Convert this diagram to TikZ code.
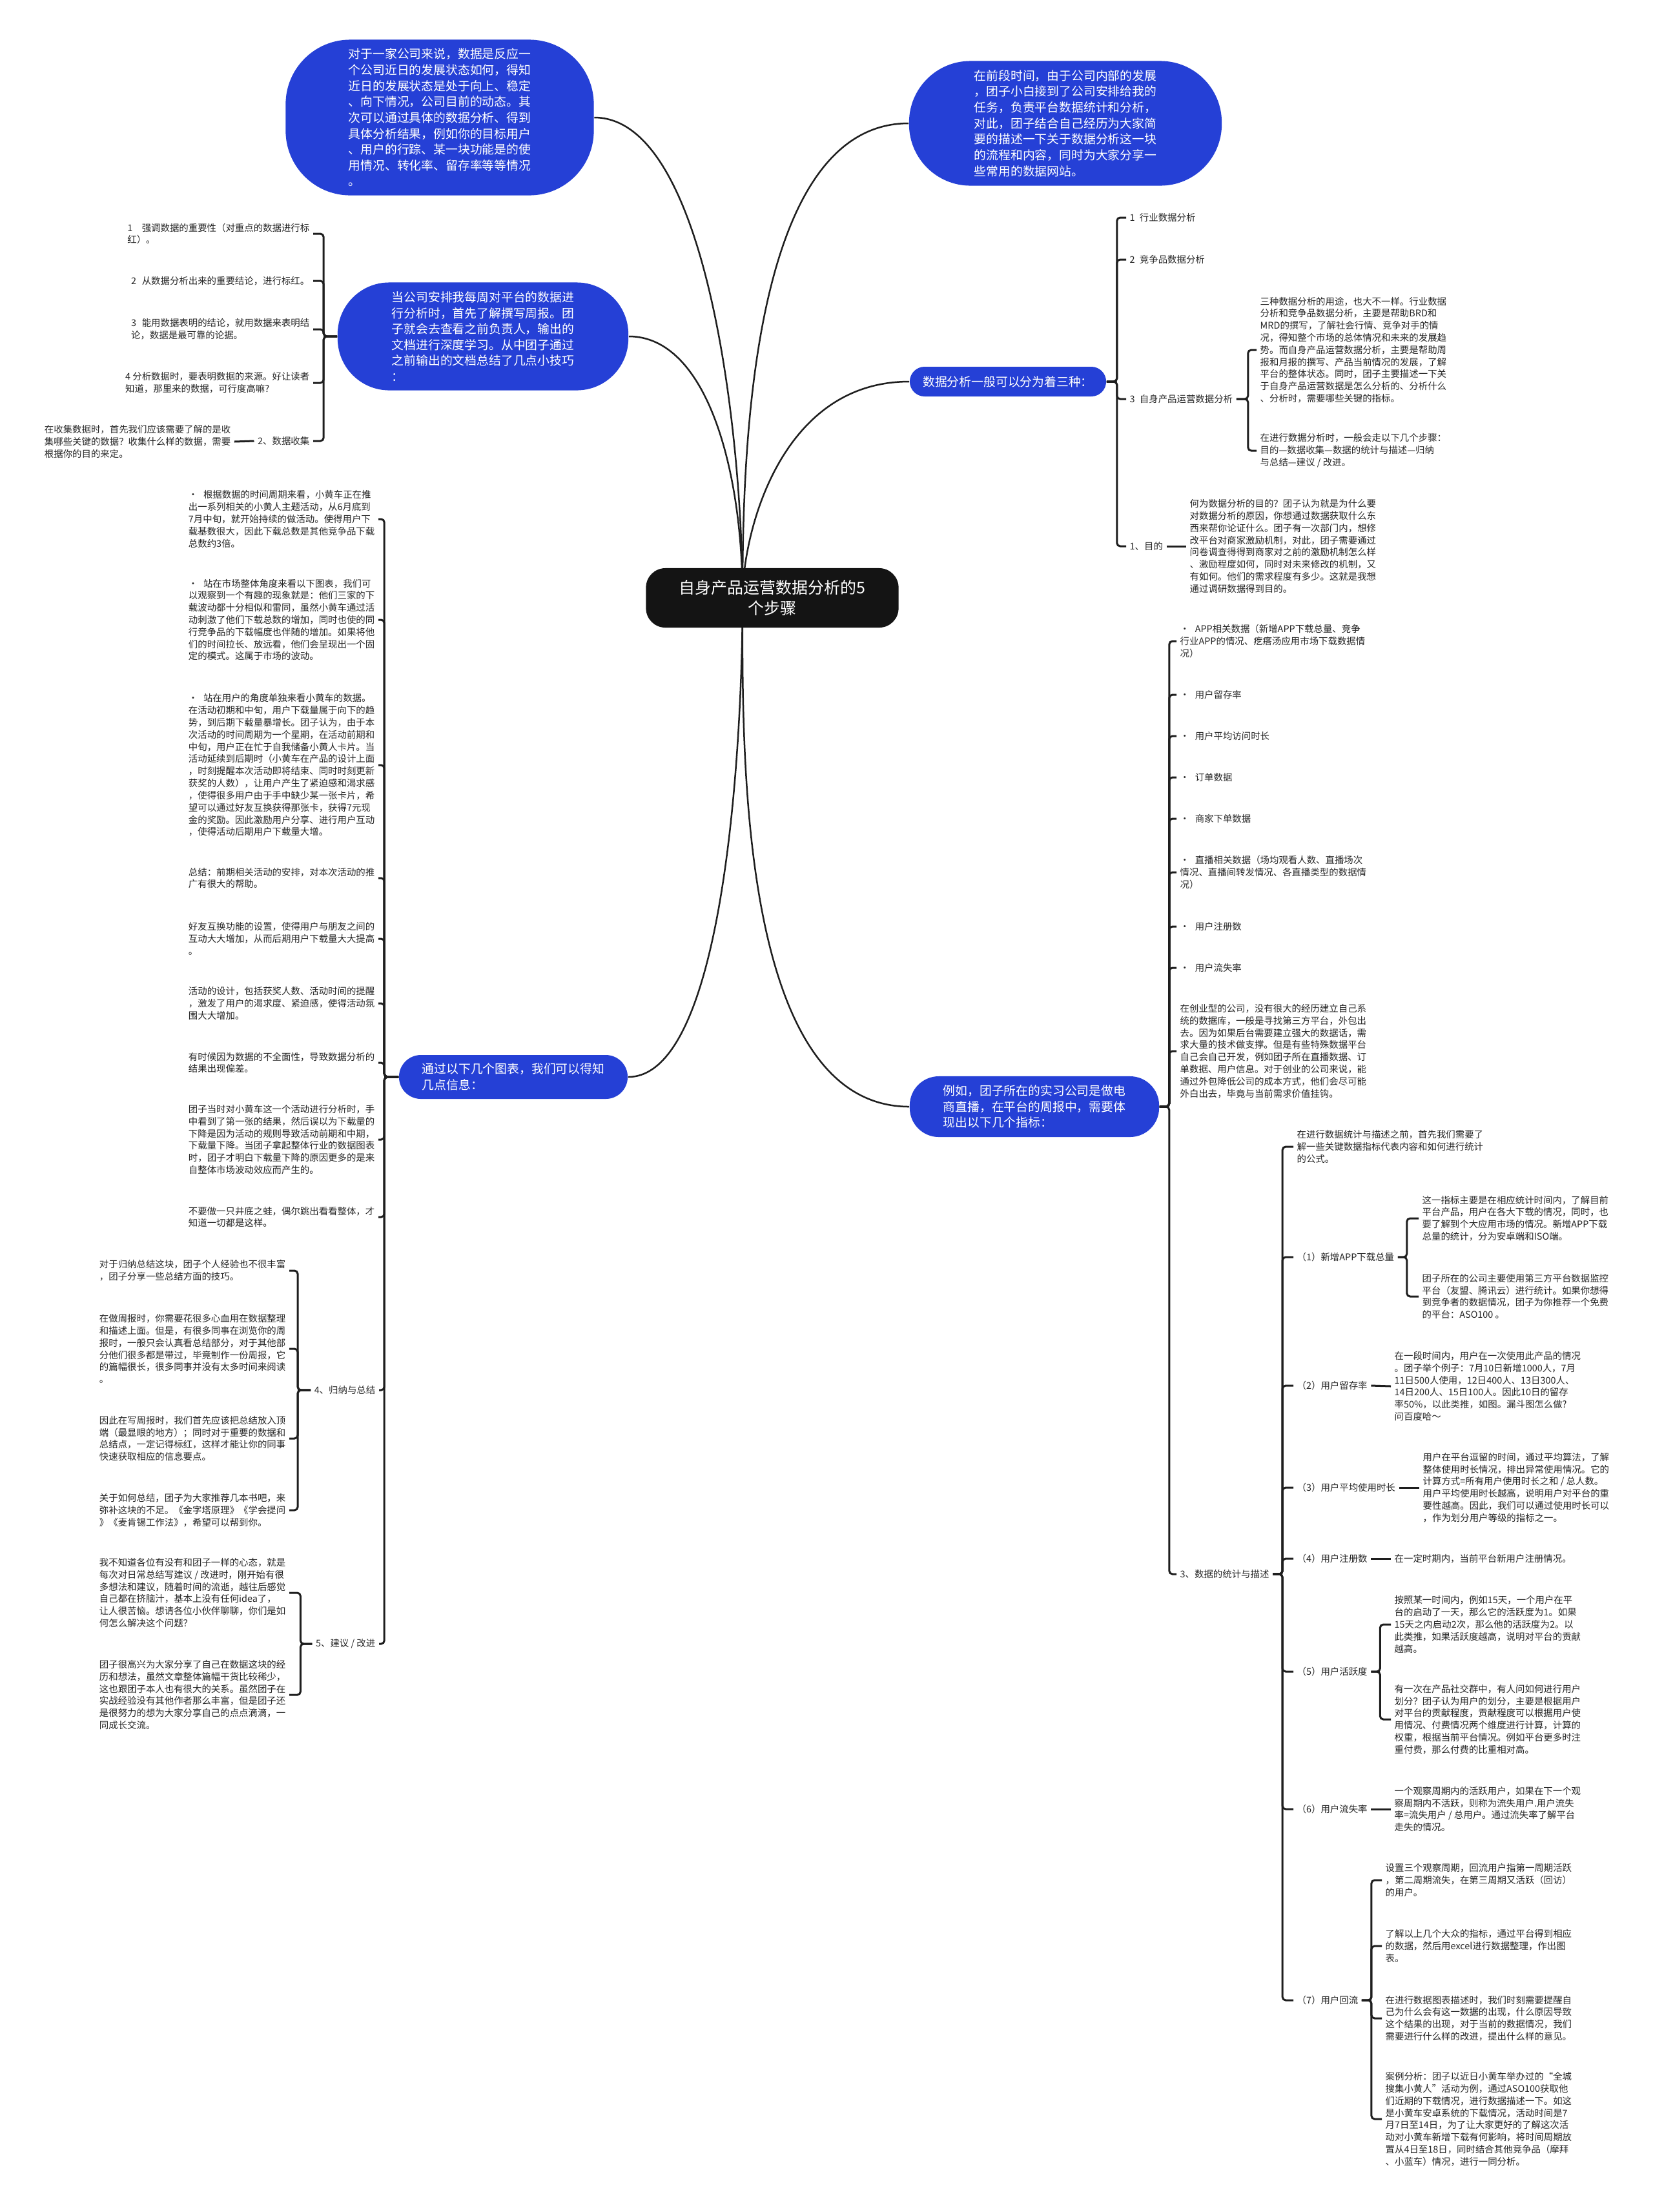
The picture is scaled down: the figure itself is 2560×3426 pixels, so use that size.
\documentclass[tikz,border=0pt]{standalone}
\usepackage{fontspec}
\setmainfont{Noto Sans CJK SC}
\usepackage{xcolor}
\definecolor{topicblue}{HTML}{2540D6}
\definecolor{rootblack}{HTML}{141414}
\definecolor{inkgray}{HTML}{262626}
\definecolor{linegray}{HTML}{1E1E1E}
\usetikzlibrary{backgrounds}

\begin{document}
\begin{tikzpicture}[x=0.01cm, y=-0.01cm, every node/.style={font=\fontsize{4.1}{5.35}\selectfont}]
\tikzstyle{leaf}=[align=left, inner sep=0.05cm, text=inkgray]
\tikzstyle{topic}=[fill=topicblue, text=white, align=left, inner sep=0pt,
  font=\fontsize{5.35}{7}\selectfont]
\tikzstyle{rootbox}=[fill=rootblack, text=white, align=center, rounded corners=0.3cm,
  minimum width=3.91cm, minimum height=0.92cm, font=\fontsize{7.1}{9.3}\selectfont]
\tikzstyle{link}=[draw=linegray, line width=0.025cm]
\tikzstyle{brace}=[draw=linegray, line width=0.03cm, rounded corners=0.05cm]
\useasboundingbox (0,0) rectangle (2560,3426);

\node[rootbox] (root) at (1196,926) {自身产品运营数据分析的5\\个步骤};

\node[topic, minimum width=4.77cm, minimum height=2.41cm, rounded corners=1cm] (a) at (681,182)
  {对于一家公司来说，数据是反应一\\个公司近日的发展状态如何，得知\\近日的发展状态是处于向上、稳定\\、向下情况，公司目前的动态。其\\次可以通过具体的数据分析、得到\\具体分析结果，例如你的目标用户\\、用户的行踪、某一块功能是的使\\用情况、转化率、留存率等等情况\\。};
\node[topic, minimum width=4.84cm, minimum height=1.93cm, rounded corners=0.95cm] (d) at (1650,191)
  {在前段时间，由于公司内部的发展\\，团子小白接到了公司安排给我的\\任务，负责平台数据统计和分析，\\对此，团子结合自己经历为大家简\\要的描述一下关于数据分析这一块\\的流程和内容，同时为大家分享一\\些常用的数据网站。};
\node[topic, minimum width=4.5cm, minimum height=1.67cm, rounded corners=0.8cm] (b) at (748,521)
  {当公司安排我每周对平台的数据进\\行分析时，首先了解撰写周报。团\\子就会去查看之前负责人，输出的\\文档进行深度学习。从中团子通过\\之前输出的文档总结了几点小技巧\\：};
\node[topic, minimum width=3.04cm, minimum height=0.46cm, rounded corners=0.23cm] (e) at (1561,591)
  {数据分析一般可以分为着三种：};
\node[topic, minimum width=3.54cm, minimum height=0.68cm, rounded corners=0.34cm] (c) at (795,1668)
  {通过以下几个图表，我们可以得知\\几点信息：};
\node[topic, minimum width=3.86cm, minimum height=0.94cm, rounded corners=0.45cm] (f) at (1602,1714)
  {例如，团子所在的实习公司是做电\\商直播，在平台的周报中，需要体\\现出以下几个指标：};

\node[leaf, anchor=east] (b1) at (485,362) {1\hspace{1em}强调数据的重要性（对重点的数据进行标\\红）。};
\node[leaf, anchor=east] (b2) at (485,435) {2\hspace{0.6em}从数据分析出来的重要结论，进行标红。};
\node[leaf, anchor=east] (b3) at (485,510) {3\hspace{0.6em}能用数据表明的结论，就用数据来表明结\\论，数据是最可靠的论据。};
\node[leaf, anchor=east] (b4) at (485,593) {4 分析数据时，要表明数据的来源。好让读者\\知道，那里来的数据，可行度高嘛?};
\node[leaf, anchor=east] (b5) at (485,683) {2、数据收集};
\node[leaf, anchor=east] (b5a) at (363,684) {在收集数据时，首先我们应该需要了解的是收\\集哪些关键的数据？收集什么样的数据，需要\\根据你的目的来定。};

\node[leaf, anchor=east] (c1) at (586,804) {•\hspace{0.6em}根据数据的时间周期来看，小黄车正在推\\出一系列相关的小黄人主题活动，从6月底到\\7月中旬，就开始持续的做活动。使得用户下\\载基数很大，因此下载总数是其他竞争品下载\\总数约3倍。};
\node[leaf, anchor=east] (c2) at (586,960) {•\hspace{0.6em}站在市场整体角度来看以下图表，我们可\\以观察到一个有趣的现象就是：他们三家的下\\载波动都十分相似和雷同，虽然小黄车通过活\\动刺激了他们下载总数的增加，同时也使的同\\行竞争品的下载幅度也伴随的增加。如果将他\\们的时间拉长、放远看，他们会呈现出一个固\\定的模式。这属于市场的波动。};
\node[leaf, anchor=east] (c3) at (586,1185) {•\hspace{0.6em}站在用户的角度单独来看小黄车的数据。\\在活动初期和中旬，用户下载量属于向下的趋\\势，到后期下载量暴增长。团子认为，由于本\\次活动的时间周期为一个星期，在活动前期和\\中旬，用户正在忙于自我储备小黄人卡片。当\\活动延续到后期时（小黄车在产品的设计上面\\，时刻提醒本次活动即将结束、同时时刻更新\\获奖的人数），让用户产生了紧迫感和渴求感\\，使得很多用户由于手中缺少某一张卡片，希\\望可以通过好友互换获得那张卡，获得7元现\\金的奖励。因此激励用户分享、进行用户互动\\，使得活动后期用户下载量大增。};
\node[leaf, anchor=east] (c4) at (586,1360) {总结：前期相关活动的安排，对本次活动的推\\广有很大的帮助。};
\node[leaf, anchor=east] (c5) at (586,1454) {好友互换功能的设置，使得用户与朋友之间的\\互动大大增加，从而后期用户下载量大大提高\\。};
\node[leaf, anchor=east] (c6) at (586,1554) {活动的设计，包括获奖人数、活动时间的提醒\\，激发了用户的渴求度、紧迫感，使得活动氛\\围大大增加。};
\node[leaf, anchor=east] (c7) at (586,1646) {有时候因为数据的不全面性，导致数据分析的\\结果出现偏差。};
\node[leaf, anchor=east] (c8) at (586,1765) {团子当时对小黄车这一个活动进行分析时，手\\中看到了第一张的结果，然后误以为下载量的\\下降是因为活动的规则导致活动前期和中期，\\下载量下降。当团子拿起整体行业的数据图表\\时，团子才明白下载量下降的原因更多的是来\\自整体市场波动效应而产生的。};
\node[leaf, anchor=east] (c9) at (586,1885) {不要做一只井底之蛙，偶尔跳出看看整体，才\\知道一切都是这样。};
\node[leaf, anchor=east] (h4) at (587,2153) {4、归纳与总结};
\node[leaf, anchor=east] (h5) at (587,2546) {5、建议 / 改进};

\node[leaf, anchor=east] (h4a) at (448,1968) {对于归纳总结这块，团子个人经验也不很丰富\\，团子分享一些总结方面的技巧。};
\node[leaf, anchor=east] (h4b) at (448,2089) {在做周报时，你需要花很多心血用在数据整理\\和描述上面。但是，有很多同事在浏览你的周\\报时，一般只会认真看总结部分，对于其他部\\分他们很多都是带过，毕竟制作一份周报，它\\的篇幅很长，很多同事并没有太多时间来阅读\\。};
\node[leaf, anchor=east] (h4c) at (448,2228) {因此在写周报时，我们首先应该把总结放入顶\\端（最显眼的地方）；同时对于重要的数据和\\总结点，一定记得标红，这样才能让你的同事\\快速获取相应的信息要点。};
\node[leaf, anchor=east] (h4d) at (448,2339) {关于如何总结，团子为大家推荐几本书吧，来\\弥补这块的不足。《金字塔原理》《学会提问\\》《麦肯锡工作法》，希望可以帮到你。};
\node[leaf, anchor=east] (h5a) at (448,2467) {我不知道各位有没有和团子一样的心态，就是\\每次对日常总结写建议 / 改进时，刚开始有很\\多想法和建议，随着时间的流逝，越往后感觉\\自己都在挤脑汁，基本上没有任何idea了，\\让人很苦恼。想请各位小伙伴聊聊，你们是如\\何怎么解决这个问题？};
\node[leaf, anchor=east] (h5b) at (448,2625) {团子很高兴为大家分享了自己在数据这块的经\\历和想法，虽然文章整体篇幅干货比较稀少，\\这也跟团子本人也有很大的关系。虽然团子在\\实战经验没有其他作者那么丰富，但是团子还\\是很努力的想为大家分享自己的点点滴滴，一\\同成长交流。};

\node[leaf, anchor=west] (e1) at (1744,337) {1\hspace{0.5em}行业数据分析};
\node[leaf, anchor=west] (e2) at (1744,402) {2\hspace{0.5em}竞争品数据分析};
\node[leaf, anchor=west] (e3) at (1744,618) {3\hspace{0.5em}自身产品运营数据分析};
\node[leaf, anchor=west] (e4) at (1744,846) {1、目的};
\node[leaf, anchor=west] (e3a) at (1946,542) {三种数据分析的用途，也大不一样。行业数据\\分析和竞争品数据分析，主要是帮助BRD和\\MRD的撰写，了解社会行情、竞争对手的情\\况，得知整个市场的总体情况和未来的发展趋\\势。而自身产品运营数据分析，主要是帮助周\\报和月报的撰写、产品当前情况的发展，了解\\平台的整体状态。同时，团子主要描述一下关\\于自身产品运营数据是怎么分析的、分析什么\\、分析时，需要哪些关键的指标。};
\node[leaf, anchor=west] (e3b) at (1946,698) {在进行数据分析时，一般会走以下几个步骤：\\目的—数据收集—数据的统计与描述—归纳\\与总结—建议 / 改进。};
\node[leaf, anchor=west] (e4a) at (1837,846) {何为数据分析的目的？团子认为就是为什么要\\对数据分析的原因，你想通过数据获取什么东\\西来帮你论证什么。团子有一次部门内，想修\\改平台对商家激励机制，对此，团子需要通过\\问卷调查得得到商家对之前的激励机制怎么样\\、激励程度如何，同时对未来修改的机制，又\\有如何。他们的需求程度有多少。这就是我想\\通过调研数据得到目的。};

\node[leaf, anchor=west] (f1) at (1822,993) {•\hspace{0.6em}APP相关数据（新增APP下载总量、竞争\\行业APP的情况、疙瘩汤应用市场下载数据情\\况）};
\node[leaf, anchor=west] (f2) at (1822,1076) {•\hspace{0.6em}用户留存率};
\node[leaf, anchor=west] (f3) at (1822,1140) {•\hspace{0.6em}用户平均访问时长};
\node[leaf, anchor=west] (f4) at (1822,1204) {•\hspace{0.6em}订单数据};
\node[leaf, anchor=west] (f5) at (1822,1268) {•\hspace{0.6em}商家下单数据};
\node[leaf, anchor=west] (f6) at (1822,1351) {•\hspace{0.6em}直播相关数据（场均观看人数、直播场次\\情况、直播间转发情况、各直播类型的数据情\\况）};
\node[leaf, anchor=west] (f7) at (1822,1435) {•\hspace{0.6em}用户注册数};
\node[leaf, anchor=west] (f8) at (1822,1499) {•\hspace{0.6em}用户流失率};
\node[leaf, anchor=west] (f9) at (1822,1628) {在创业型的公司，没有很大的经历建立自己系\\统的数据库，一般是寻找第三方平台，外包出\\去。因为如果后台需要建立强大的数据话，需\\求大量的技术做支撑。但是有些特殊数据平台\\自己会自己开发，例如团子所在直播数据、订\\单数据、用户信息。对于创业的公司来说，能\\通过外包降低公司的成本方式，他们会尽可能\\外白出去，毕竟与当前需求价值挂钩。};
\node[leaf, anchor=west] (f10) at (1822,2438) {3、数据的统计与描述};

\node[leaf, anchor=west] (g0) at (2003,1776) {在进行数据统计与描述之前，首先我们需要了\\解一些关键数据指标代表内容和如何进行统计\\的公式。};
\node[leaf, anchor=west] (g1) at (2003,1947) {（1）新增APP下载总量};
\node[leaf, anchor=west] (g2) at (2003,2146) {（2）用户留存率};
\node[leaf, anchor=west] (g3) at (2003,2304) {（3）用户平均使用时长};
\node[leaf, anchor=west] (g4) at (2003,2414) {（4）用户注册数};
\node[leaf, anchor=west] (g5) at (2003,2589) {（5）用户活跃度};
\node[leaf, anchor=west] (g6) at (2003,2802) {（6）用户流失率};
\node[leaf, anchor=west] (g7) at (2003,3098) {（7）用户回流};

\node[leaf, anchor=west] (g1a) at (2197,1887) {这一指标主要是在相应统计时间内，了解目前\\平台产品，用户在各大下载的情况，同时，也\\要了解到个大应用市场的情况。新增APP下载\\总量的统计，分为安卓端和ISO端。};
\node[leaf, anchor=west] (g1b) at (2197,2008) {团子所在的公司主要使用第三方平台数据监控\\平台（友盟、腾讯云）进行统计。如果你想得\\到竞争者的数据情况，团子为你推荐一个免费\\的平台：ASO100 。};
\node[leaf, anchor=west] (g2a) at (2154,2147) {在一段时间内，用户在一次使用此产品的情况\\。团子举个例子：7月10日新增1000人，7月\\11日500人使用，12日400人、13日300人、\\14日200人、15日100人。因此10日的留存\\率50\%，以此类推，如图。漏斗图怎么做?\\问百度哈～};
\node[leaf, anchor=west] (g3a) at (2198,2304) {用户在平台逗留的时间，通过平均算法，了解\\整体使用时长情况，排出异常使用情况。它的\\计算方式=所有用户使用时长之和 / 总人数。\\用户平均使用时长越高，说明用户对平台的重\\要性越高。因此，我们可以通过使用时长可以\\，作为划分用户等级的指标之一。};
\node[leaf, anchor=west] (g4a) at (2154,2414) {在一定时期内，当前平台新用户注册情况。};
\node[leaf, anchor=west] (g5a) at (2154,2516) {按照某一时间内，例如15天，一个用户在平\\台的启动了一天，那么它的活跃度为1。如果\\15天之内启动2次，那么他的活跃度为2。以\\此类推，如果活跃度越高，说明对平台的贡献\\越高。};
\node[leaf, anchor=west] (g5b) at (2154,2663) {有一次在产品社交群中，有人问如何进行用户\\划分？团子认为用户的划分，主要是根据用户\\对平台的贡献程度，贡献程度可以根据用户使\\用情况、付费情况两个维度进行计算，计算的\\权重，根据当前平台情况。例如平台更多时注\\重付费，那么付费的比重相对高。};
\node[leaf, anchor=west] (g6a) at (2154,2802) {一个观察周期内的活跃用户，如果在下一个观\\察周期内不活跃，则称为流失用户.用户流失\\率=流失用户 / 总用户。通过流失率了解平台\\走失的情况。};
\node[leaf, anchor=west] (g7a) at (2140,2912) {设置三个观察周期，回流用户指第一周期活跃\\，第二周期流失，在第三周期又活跃（回访）\\的用户。};
\node[leaf, anchor=west] (g7b) at (2140,3014) {了解以上几个大众的指标，通过平台得到相应\\的数据，然后用excel进行数据整理，作出图\\表。};
\node[leaf, anchor=west] (g7c) at (2140,3126) {在进行数据图表描述时，我们时刻需要提醒自\\己为什么会有这一数据的出现，什么原因导致\\这个结果的出现，对于当前的数据情况，我们\\需要进行什么样的改进，提出什么样的意见。};
\node[leaf, anchor=west] (g7d) at (2140,3282) {案例分析：团子以近日小黄车举办过的“全城\\搜集小黄人”活动为例，通过ASO100获取他\\们近期的下载情况，进行数据描述一下。如这\\是小黄车安卓系统的下载情况，活动时间是7\\月7日至14日，为了让大家更好的了解这次活\\动对小黄车新增下载有何影响，将时间周期放\\置从4日至18日，同时结合其他竞争品（摩拜\\、小蓝车）情况，进行一同分析。};

\draw[brace] (b.west) -- ++(-21,0) |- (b1.east);
\draw[brace] (b.west) -- ++(-21,0) |- (b2.east);
\draw[brace] (b.west) -- ++(-21,0) |- (b3.east);
\draw[brace] (b.west) -- ++(-21,0) |- (b4.east);
\draw[brace] (b.west) -- ++(-21,0) |- (b5.east);
\draw[brace] (b5.west) -- (b5a.east);

\draw[brace] (c.west) -- ++(-22,0) |- (c1.east);
\draw[brace] (c.west) -- ++(-22,0) |- (c2.east);
\draw[brace] (c.west) -- ++(-22,0) |- (c3.east);
\draw[brace] (c.west) -- ++(-22,0) |- (c4.east);
\draw[brace] (c.west) -- ++(-22,0) |- (c5.east);
\draw[brace] (c.west) -- ++(-22,0) |- (c6.east);
\draw[brace] (c.west) -- ++(-22,0) |- (c7.east);
\draw[brace] (c.west) -- ++(-22,0) |- (c8.east);
\draw[brace] (c.west) -- ++(-22,0) |- (c9.east);
\draw[brace] (c.west) -- ++(-22,0) |- (h4.east);
\draw[brace] (c.west) -- ++(-22,0) |- (h5.east);

\draw[brace] (h4.west) -- ++(-20,0) |- (h4a.east);
\draw[brace] (h4.west) -- ++(-20,0) |- (h4b.east);
\draw[brace] (h4.west) -- ++(-20,0) |- (h4c.east);
\draw[brace] (h4.west) -- ++(-20,0) |- (h4d.east);
\draw[brace] (h5.west) -- ++(-18,0) |- (h5a.east);
\draw[brace] (h5.west) -- ++(-18,0) |- (h5b.east);

\draw[brace] (e.east) -- ++(16,0) |- (e1.west);
\draw[brace] (e.east) -- ++(16,0) |- (e2.west);
\draw[brace] (e.east) -- ++(16,0) |- (e3.west);
\draw[brace] (e.east) -- ++(16,0) |- (e4.west);
\draw[brace] (e3.east) -- ++(18,0) |- (e3a.west);
\draw[brace] (e3.east) -- ++(18,0) |- (e3b.west);
\draw[brace] (e4.east) -- (e4a.west);

\draw[brace] (f.east) -- ++(15,0) |- (f1.west);
\draw[brace] (f.east) -- ++(15,0) |- (f2.west);
\draw[brace] (f.east) -- ++(15,0) |- (f3.west);
\draw[brace] (f.east) -- ++(15,0) |- (f4.west);
\draw[brace] (f.east) -- ++(15,0) |- (f5.west);
\draw[brace] (f.east) -- ++(15,0) |- (f6.west);
\draw[brace] (f.east) -- ++(15,0) |- (f7.west);
\draw[brace] (f.east) -- ++(15,0) |- (f8.west);
\draw[brace] (f.east) -- ++(15,0) |- (f9.west);
\draw[brace] (f.east) -- ++(15,0) |- (f10.west);

\draw[brace] (f10.east) -- ++(15,0) |- (g0.west);
\draw[brace] (f10.east) -- ++(15,0) |- (g1.west);
\draw[brace] (f10.east) -- ++(15,0) |- (g2.west);
\draw[brace] (f10.east) -- ++(15,0) |- (g3.west);
\draw[brace] (f10.east) -- ++(15,0) |- (g4.west);
\draw[brace] (f10.east) -- ++(15,0) |- (g5.west);
\draw[brace] (f10.east) -- ++(15,0) |- (g6.west);
\draw[brace] (f10.east) -- ++(15,0) |- (g7.west);

\draw[brace] (g1.east) -- ++(14,0) |- (g1a.west);
\draw[brace] (g1.east) -- ++(14,0) |- (g1b.west);
\draw[brace] (g2.east) -- (g2a.west);
\draw[brace] (g3.east) -- (g3a.west);
\draw[brace] (g4.east) -- (g4a.west);
\draw[brace] (g5.east) -- ++(14,0) |- (g5a.west);
\draw[brace] (g5.east) -- ++(14,0) |- (g5b.west);
\draw[brace] (g6.east) -- (g6a.west);
\draw[brace] (g7.east) -- ++(15,0) |- (g7a.west);
\draw[brace] (g7.east) -- ++(15,0) |- (g7b.west);
\draw[brace] (g7.east) -- ++(15,0) |- (g7c.west);
\draw[brace] (g7.east) -- ++(15,0) |- (g7d.west);

\begin{scope}[on background layer]
\fill[white] (0,0) rectangle (2560,3426);
\draw[link] (a.east) .. controls +(175,0) and +(0,-250) .. ([xshift=-0.46cm]root.center);
\draw[link] (d.west) .. controls +(-250,0) and +(0,-200) .. ([xshift=-0.46cm]root.center);
\draw[link] (b.east) .. controls +(120,0) and +(0,-200) .. ([xshift=-0.46cm]root.center);
\draw[link] (e.west) .. controls +(-200,0) and +(0,-100) .. ([xshift=-0.46cm]root.center);
\draw[link] (c.east) .. controls +(150,0) and +(0,220) .. ([xshift=-0.46cm]root.center);
\draw[link] (f.west) .. controls +(-270,0) and +(0,210) .. ([xshift=-0.46cm]root.center);
\end{scope}
\end{tikzpicture}
\end{document}
